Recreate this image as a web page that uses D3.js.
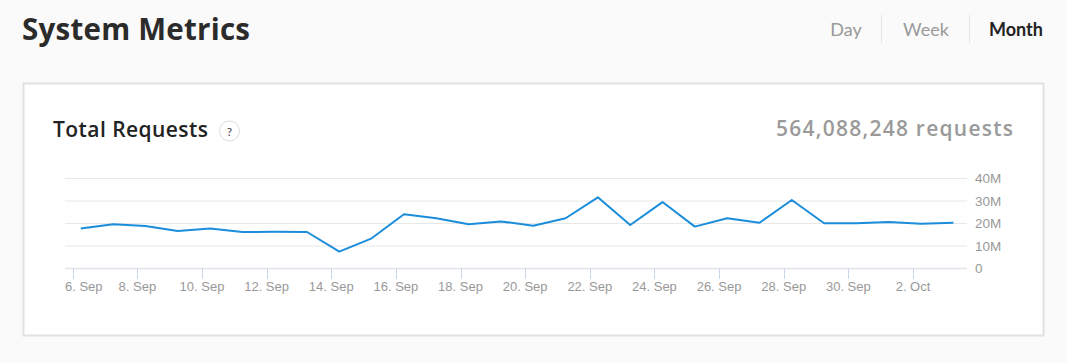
<!doctype html>
<html>
<head>
<meta charset="utf-8">
<title>System Metrics</title>
<script src="https://cdn.jsdelivr.net/npm/d3@7"></script>
<style>
  body { margin: 0; background: #fafafa; font-family: Lato, "Open Sans", sans-serif; }
  svg { display: block; }
  .head { font-family: "Open Sans", Lato, sans-serif; }
</style>
</head>
<body>
<svg id="chart" width="1067" height="362"></svg>
<script>
// daily totals, 6 Sep - 3 Oct (millions of requests)
var days = ["2019-09-06","2019-09-07","2019-09-08","2019-09-09","2019-09-10","2019-09-11","2019-09-12",
            "2019-09-13","2019-09-14","2019-09-15","2019-09-16","2019-09-17","2019-09-18","2019-09-19",
            "2019-09-20","2019-09-21","2019-09-22","2019-09-23","2019-09-24","2019-09-25","2019-09-26",
            "2019-09-27","2019-09-28","2019-09-29","2019-09-30","2019-10-01","2019-10-02","2019-10-03"];
var requests = [17.6, 19.4, 18.7, 16.4, 17.6, 16.0, 16.1,
                16.0, 7.3, 13.2, 23.9, 22.1, 19.4, 20.7,
                18.8, 22.1, 31.4, 19.1, 29.3, 18.4, 22.1,
                20.1, 30.2, 19.9, 19.9, 20.4, 19.7, 20.1];
var yTicks = [0, 10, 20, 30, 40];
var periods = ["Day", "Week", "Month"];
var total = 564088248;

var svg = d3.select("#chart");
var parse = d3.timeParse("%Y-%m-%d %H");

// header
svg.append("text").attr("class", "head").attr("x", 22).attr("y", 40)
  .attr("font-size", 29.5).attr("font-weight", 700).attr("fill", "#2b2b2b")
  .attr("textLength", 228).attr("lengthAdjust", "spacing")
  .text("System Metrics");

var periodX = [846, 926, 1016];
periods.forEach(function(p, i) {
  svg.append("text").attr("x", periodX[i]).attr("y", 36)
    .attr("text-anchor", "middle").attr("font-size", 18)
    .attr("font-weight", i == 2 ? 700 : 400)
    .attr("fill", i == 2 ? "#222" : "#999")
    .text(p);
});
[881.5, 969.5].forEach(function(x) {
  svg.append("line").attr("x1", x).attr("x2", x).attr("y1", 15).attr("y2", 43)
    .attr("stroke", "#e3e3e3");
});

// card
svg.append("rect").attr("x", 23.5).attr("y", 83.5).attr("width", 1020).attr("height", 252)
  .attr("fill", "#fff").attr("stroke", "#e2e2e2").attr("stroke-width", 2);

svg.append("text").attr("class", "head").attr("x", 53).attr("y", 137)
  .attr("font-size", 21).attr("font-weight", 600).attr("fill", "#222")
  .attr("textLength", 155).attr("lengthAdjust", "spacing")
  .text("Total Requests");
svg.append("circle").attr("cx", 229.5).attr("cy", 131).attr("r", 10)
  .attr("fill", "#fff").attr("stroke", "#ddd");
svg.append("text").attr("x", 229.5).attr("y", 135.5).attr("text-anchor", "middle")
  .attr("font-size", 12).attr("fill", "#444").text("?");

svg.append("text").attr("class", "head").attr("x", 776).attr("y", 136)
  .attr("font-size", 21).attr("font-weight", 600).attr("fill", "#9a9a9a")
  .attr("textLength", 237).attr("lengthAdjust", "spacing")
  .text(d3.format(",")(total) + " requests");

// plot
var left = 65, right = 967;
var x = d3.scaleTime()
  .domain([parse("2019-09-06 00"), parse("2019-10-02 00")])
  .range([72.7, 913]);
var y = d3.scaleLinear().domain([0, 40]).range([268, 178]);

var g = svg.append("g");
g.selectAll(".grid").data(yTicks).enter().append("line")
  .attr("x1", left).attr("x2", right)
  .attr("y1", function(d) { return y(d) + 0.5; })
  .attr("y2", function(d) { return y(d) + 0.5; })
  .attr("stroke", function(d) { return d == 0 ? "#dfe3ea" : "#e8e8e8"; })
  .attr("stroke-width", function(d) { return d == 0 ? 1.5 : 1; });

g.selectAll(".ylab").data(yTicks).enter().append("text")
  .attr("x", 975).attr("y", function(d) { return y(d) + 5; })
  .attr("font-family", "'Liberation Sans', Arial, sans-serif")
  .attr("font-size", 13.5).attr("fill", "#999")
  .text(function(d) { return d == 0 ? "0" : d + "M"; });

var xTicks = d3.timeDay.range(parse("2019-09-06 00"), parse("2019-10-03 00"), 1)
  .filter(function(d, i) { return i % 2 == 0; });
var fmt = d3.timeFormat("%-d. %b");

g.selectAll(".tick").data(xTicks).enter().append("line")
  .attr("x1", function(d) { return Math.round(x(d)) + 0.5; })
  .attr("x2", function(d) { return Math.round(x(d)) + 0.5; })
  .attr("y1", 268).attr("y2", 279)
  .attr("stroke", "#ccd6eb");

g.selectAll(".xlab").data(xTicks).enter().append("text")
  .attr("x", function(d, i) { return i == 0 ? left : x(d); })
  .attr("y", 291)
  .attr("text-anchor", function(d, i) { return i == 0 ? "start" : "middle"; })
  .attr("font-family", "'Liberation Sans', Arial, sans-serif")
  .attr("font-size", 13).attr("fill", "#999")
  .text(fmt);

var pts = days.map(function(d, i) { return { t: parse(d + " 06"), v: requests[i] }; });
var line = d3.line()
  .x(function(d) { return x(d.t); })
  .y(function(d) { return y(d.v); });
g.append("path").datum(pts).attr("d", line)
  .attr("fill", "none").attr("stroke", "#1b8ddb").attr("stroke-width", 2)
  .attr("stroke-linejoin", "round");
</script>
</body>
</html>
